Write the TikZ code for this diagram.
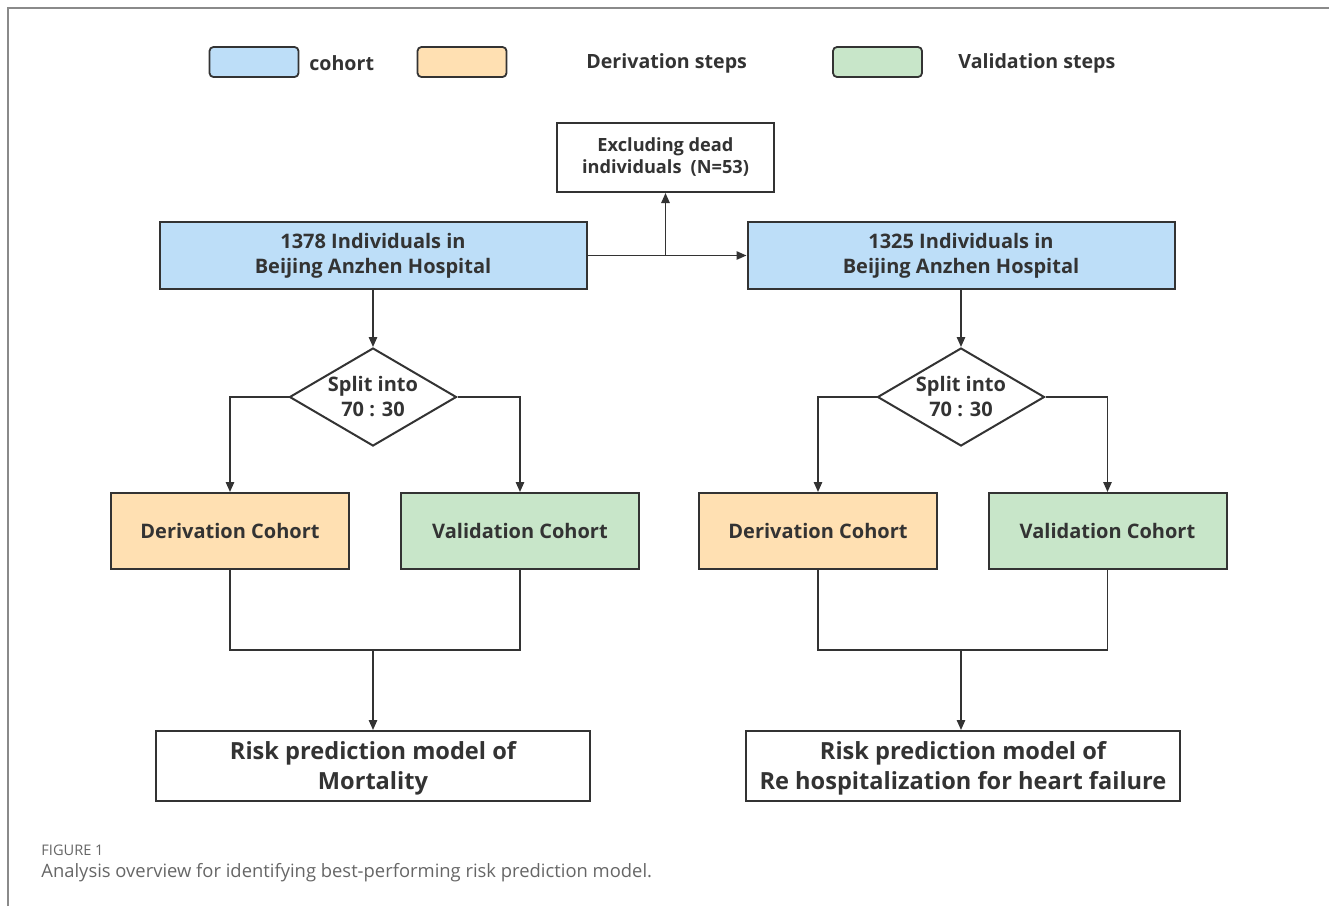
\documentclass[tikz,border=0pt]{standalone}
\usepackage{fontspec}
\setmainfont{Open Sans}
\usetikzlibrary{shapes.geometric,arrows.meta}
\definecolor{cblue}{HTML}{BDDEF8}
\definecolor{corange}{HTML}{FFE0B2}
\definecolor{cgreen}{HTML}{C8E6C9}
\definecolor{edgec}{HTML}{333333}
\definecolor{framec}{HTML}{8A8A8A}
\definecolor{capc}{HTML}{666666}
\begin{document}
\begin{tikzpicture}[x=0.5pt,y=-0.5pt,
  box/.style={draw=edgec,line width=1pt,align=center,text=edgec,inner sep=0pt,
    font=\fontsize{10}{12.5}\selectfont\bfseries},
  cohortbox/.style={box,fill=cblue,minimum width=213.5pt,minimum height=33.5pt},
  derbox/.style={box,fill=corange,minimum width=119pt,minimum height=38pt},
  valbox/.style={box,fill=cgreen,minimum width=119pt,minimum height=38pt},
  riskbox/.style={box,fill=white,minimum width=217pt,minimum height=35pt,text depth=1pt,
    font=\fontsize{11.8}{15}\selectfont\bfseries},
  exbox/.style={box,fill=white,minimum width=108.5pt,minimum height=34.5pt,
    font=\fontsize{9.1}{11}\selectfont\bfseries},
  splitnode/.style={box,diamond,fill=white,minimum width=83.5pt,minimum height=49pt,aspect=1.7},
  legbox/.style={draw=edgec,line width=0.9pt,rounded corners=2pt,minimum width=44.5pt,minimum height=15pt,inner sep=0pt},
  legtext/.style={anchor=west,inner sep=0pt,text=edgec,font=\fontsize{9.8}{12}\selectfont\bfseries},
  conn/.style={draw=edgec,line width=0.8pt},
  arr/.style={conn,-{Triangle[length=5pt,width=4.2pt]}}
]
\useasboundingbox (0,0) rectangle (1329,906);
% frame
\draw[framec,line width=0.8pt] (8,906) -- (8,8) -- (1329,8);

% legend
\node[legbox,fill=cblue] (lg1) at (254,62) {};
\node[legtext] (lt1) at (309,63) {cohort};
\node[legbox,fill=corange] (lg2) at (462,62) {};
\node[legtext] (lt2) at (586,63) {Derivation steps};
\node[legbox,fill=cgreen] (lg3) at (877.5,62) {};
\node[legtext] (lt3) at (958,63) {Validation steps};

% top
\node[exbox] (ex) at (665.5,157.5) {Excluding dead\\individuals\enspace(N=53)};
\node[cohortbox] (c1) at (373,255.5) {1378 Individuals in\\Beijing Anzhen Hospital};
\node[cohortbox] (c2) at (961,255.5) {1325 Individuals in\\Beijing Anzhen Hospital};
\coordinate (j0) at (665.5,255.5);
\draw[arr] (c1.east) -- (c2.west);
\draw[arr] (j0) -- (ex.south);

% left branch
\node[splitnode] (s1) at (373,397) {Split into\\70 : 30};
\node[derbox] (d1) at (230,531) {Derivation Cohort};
\node[valbox] (v1) at (520,531) {Validation Cohort};
\node[riskbox] (r1) at (373,766) {Risk prediction model of\\Mortality};
\draw[arr] (c1.south) -- (s1.north);
\draw[arr] (s1.west) -| (d1.north);
\draw[arr] (s1.east) -| (v1.north);
\coordinate (j1) at (373,650);
\draw[conn] (d1.south) |- (j1) -| (v1.south);
\draw[arr] (j1) -- (r1.north);

% right branch
\node[splitnode] (s2) at (961,397) {Split into\\70 : 30};
\node[derbox] (d2) at (818,531) {Derivation Cohort};
\node[valbox] (v2) at (1107.5,531) {Validation Cohort};
\node[riskbox] (r2) at (963,766) {Risk prediction model of\\Re hospitalization for heart failure};
\draw[arr] (c2.south) -- (s2.north);
\draw[arr] (s2.west) -| (d2.north);
\draw[arr] (s2.east) -| (v2.north);
\coordinate (j2) at (961,650);
\draw[conn] (d2.south) |- (j2) -| (v2.south);
\draw[arr] (j2) -- (j2 |- r2.north);

% caption
\node[anchor=west,inner sep=0pt,text=capc,font=\fontsize{7.3}{8}\selectfont] (fig) at (41,850) {FIGURE 1};
\node[anchor=west,inner sep=0pt,text=capc,font=\fontsize{9.2}{10}\selectfont] (cap) at (41,873) {Analysis overview for identifying best-performing risk prediction model.};
\end{tikzpicture}
\end{document}
